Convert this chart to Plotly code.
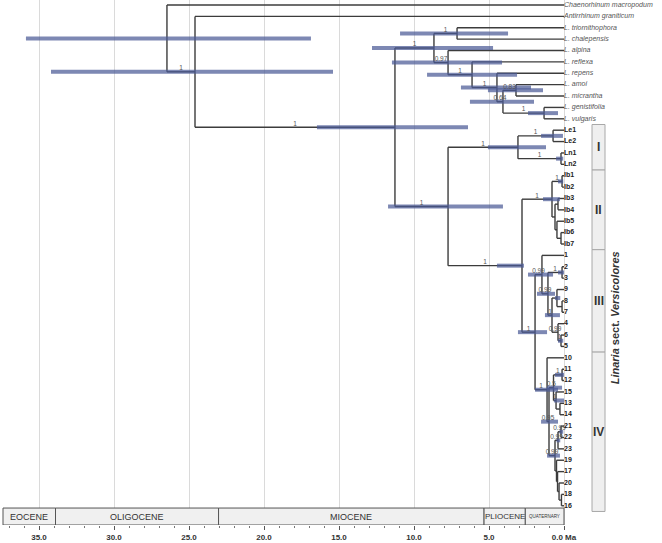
import plotly.graph_objects as go

# ---------------- data ----------------
tip_names = ["Chaenorhinum macropodum", "Antirrhinum graniticum", "L. triornithophora",
             "L. chalepensis", "L. alpina", "L. reflexa", "L. repens", "L. amoi",
             "L. micrantha", "L. genistifolia", "L. vulgaris",
             "Le1", "Le2", "Ln1", "Ln2",
             "Ib1", "Ib2", "Ib3", "Ib4", "Ib5", "Ib6", "Ib7",
             "1", "2", "3", "9", "8", "7", "4", "6", "5",
             "10", "11", "12", "15", "13", "14", "21", "22", "23", "19", "17", "20", "18", "16"]
n_outgroup_tips = 11

node_ids = ["n_root", "n_A", "n_L", "n_B", "n_C", "n_D", "n_E", "n_F", "n_G", "n_H", "n_I",
            "n_V", "n_CI", "n_Le", "n_Ln", "n_R", "n_CII", "n_Ib12", "n_IIb", "n_Ib34",
            "n_Ib567", "n_Ib67", "n_C34", "n_CIII", "n_X", "n_23", "n_Y", "n_987", "n_87",
            "n_465", "n_65", "n_CIV", "n_RIV", "n_IVA", "n_1112", "n_151314", "n_1314",
            "n_IVB", "n_C1", "n_2122", "n_C2", "n_C3", "n_C4", "n_C5"]
node_kids = [["Chaenorhinum macropodum", "n_A"], ["Antirrhinum graniticum", "n_L"],
             ["n_B", "n_V"], ["n_C", "n_D"], ["L. triornithophora", "L. chalepensis"],
             ["L. alpina", "n_E"], ["L. reflexa", "n_F"], ["L. repens", "n_G"],
             ["n_H", "n_I"], ["L. amoi", "L. micrantha"], ["L. genistifolia", "L. vulgaris"],
             ["n_CI", "n_R"], ["n_Le", "n_Ln"], ["Le1", "Le2"], ["Ln1", "Ln2"],
             ["n_CII", "n_C34"], ["n_Ib12", "n_IIb"], ["Ib1", "Ib2"], ["n_Ib34", "n_Ib567"],
             ["Ib3", "Ib4"], ["Ib5", "n_Ib67"], ["Ib6", "Ib7"], ["n_CIII", "n_CIV"],
             ["1", "n_X"], ["n_23", "n_Y"], ["2", "3"], ["n_987", "n_465"], ["9", "n_87"],
             ["8", "7"], ["4", "n_65"], ["6", "5"], ["10", "n_RIV"], ["n_IVA", "n_IVB"],
             ["n_1112", "n_151314"], ["11", "12"], ["15", "n_1314"], ["13", "14"],
             ["n_C1", "n_C2"], ["n_2122", "23"], ["21", "22"], ["19", "n_C3"],
             ["17", "n_C4"], ["20", "n_C5"], ["18", "16"]]
node_age = [26.47, 24.6, 11.27, 8.67, 7.13, 7.73, 6.13, 4.47, 4.07, 3.2, 1.33,
            7.73, 3.07, 0.73, 0.2, 2.8, 0.8, 0.13, 0.6, 0.4,
            0.47, 0.2, 1.93, 1.47, 1.07, 0.13, 0.8, 0.47, 0.13,
            0.4, 0.2, 1.13, 1.0, 0.7, 0.13, 0.53, 0.27,
            0.6, 0.4, 0.2, 0.5, 0.43, 0.33, 0.17]
hpd_old = [35.87, 34.2, 16.47, 12.8, 10.93, 11.47, 9.13, 6.87, 6.27, 5.07, 2.4,
           11.73, 5.07, 1.53, 0.53, 4.47, 1.4, 0.4, None, None,
           None, None, 3.07, 2.4, 1.8, 0.4, 1.27, 0.6, None,
           None, 0.4, 1.93, 1.53, 1.13, 0.6, 0.67, None,
           1.13, 0.5, 0.3, None, None, None, None]
hpd_young = [16.87, 15.4, 6.4, 4.73, 3.73, 4.13, 3.13, 2.2, 2.0, 1.4, 0.4,
             4.07, 1.2, 0.07, 0.05, 2.67, 0.27, 0.05, None, None,
             None, None, 1.13, 0.73, 0.6, 0.0, 0.27, 0.25, None,
             None, 0.05, 0.4, 0.4, 0.13, 0.0, 0.0, None,
             0.27, 0.25, 0.05, None, None, None, None]
node_support = ["", "1", "1", "1", "1", "0.97", "1", "1", "0.64", "0.83", "1",
                "1", "1", "1", "1", "1", "1", "1", "", "",
                "", "", "1", "0.99", "0.99", "1", "1", "", "",
                "0.99", "1", "1", "0.95", "0.5", "1", "1", "",
                "0.99", "0.99", "0.99", "", "", "", ""]

epoch_names = ["EOCENE", "OLIGOCENE", "MIOCENE", "PLIOCENE", "QUATERNARY"]
epoch_start = [37.4, 33.9, 23.03, 5.33, 2.58]
epoch_end = [33.9, 23.03, 5.33, 2.58, 0.0]
epoch_font = [9, 9, 9, 8, 4.5]

clade_names = ["I", "II", "III", "IV"]
clade_first = ["Le1", "Ib1", "1", "10"]
clade_last = ["Ln2", "Ib7", "5", "16"]

tick_vals = [35, 30, 25, 20, 15, 10, 5, 0]
tick_text = ["35.0", "30.0", "25.0", "20.0", "15.0", "10.0", "5.0", "0.0 Ma"]
minor_tick_vals = [v for v in range(0, 38) if v % 5 != 0]

# ---------------- layout helpers ----------------
FONT = "Liberation Sans, Arial, sans-serif"
tip_y = {n: i for i, n in enumerate(tip_names)}
age = {n: 0.0 for n in tip_names}
kids = {}
for nid, k, a in zip(node_ids, node_kids, node_age):
    kids[nid] = k
    age[nid] = a
parent = {}
for nid, k in kids.items():
    for c in k:
        parent[c] = nid

ypos = dict(tip_y)


def get_y(n):
    if n in ypos:
        return ypos[n]
    v = sum(get_y(c) for c in kids[n]) / len(kids[n])
    ypos[n] = v
    return v


for nid in node_ids:
    get_y(nid)

# branches
bx, by = [], []
for nid in node_ids:
    ys = [ypos[c] for c in kids[nid]]
    bx += [age[nid], age[nid], None]
    by += [min(ys), max(ys), None]
    for c in kids[nid]:
        bx += [age[nid], age[c], None]
        by += [ypos[c], ypos[c], None]

# HPD bars
hx, hy = [], []
for nid, o, yg in zip(node_ids, hpd_old, hpd_young):
    if o is None:
        continue
    hx += [o, yg, None]
    hy += [ypos[nid], ypos[nid], None]

# support labels
sx, sy, st = [], [], []
for nid, s in zip(node_ids, node_support):
    if not s or nid not in parent:
        continue
    sx.append((age[parent[nid]] + age[nid]) / 2)
    sy.append(ypos[nid])
    st.append(s)

fig = go.Figure()
fig.add_trace(go.Scatter(x=bx, y=by, mode="lines",
                         line=dict(color="#3c3c3c", width=1.4), hoverinfo="skip"))
fig.add_trace(go.Scatter(x=hx, y=hy, mode="lines",
                         line=dict(color="rgba(75,90,150,0.72)", width=4), hoverinfo="skip"))
fig.add_trace(go.Scatter(x=sx, y=sy, mode="text", text=st, textposition="top center",
                         textfont=dict(size=6.5, color="#555", family=FONT), hoverinfo="skip"))
# tip labels
fig.add_trace(go.Scatter(x=[0.0] * n_outgroup_tips, y=list(range(n_outgroup_tips)),
                         mode="text", text=["<i>%s</i>" % t for t in tip_names[:n_outgroup_tips]],
                         textposition="middle right",
                         textfont=dict(size=7, color="#555", family=FONT), hoverinfo="skip"))
fig.add_trace(go.Scatter(x=[0.0] * (len(tip_names) - n_outgroup_tips),
                         y=list(range(n_outgroup_tips, len(tip_names))),
                         mode="text", text=["<b>%s</b>" % t for t in tip_names[n_outgroup_tips:]],
                         textposition="middle right",
                         textfont=dict(size=7, color="#222", family=FONT), hoverinfo="skip"))

Y_TOP, Y_BOT = -0.439, 45.69
EPOCH_TOP = 44.2

shapes = []
annotations = []
for name, s, e, fs in zip(epoch_names, epoch_start, epoch_end, epoch_font):
    shapes.append(dict(type="rect", xref="x", yref="y", x0=s, x1=e, y0=EPOCH_TOP, y1=Y_BOT,
                       fillcolor="#f0f0f0", line=dict(color="#555", width=1), layer="between"))
    annotations.append(dict(x=(s + e) / 2, y=(EPOCH_TOP + Y_BOT) / 2, xref="x", yref="y",
                            text=name, showarrow=False,
                            font=dict(size=fs, color="#333", family=FONT)))

for name, f, l in zip(clade_names, clade_first, clade_last):
    y0 = tip_y[f] - 0.5
    y1 = tip_y[l] + 0.5
    shapes.append(dict(type="rect", xref="x", yref="y", x0=-1.867, x1=-2.733, y0=y0, y1=y1,
                       fillcolor="#efefef", line=dict(color="#a8a8a8", width=1), layer="between"))
    annotations.append(dict(x=-2.3, y=(y0 + y1) / 2, xref="x", yref="y",
                            text="<b>%s</b>" % name, showarrow=False,
                            font=dict(size=12, color="#333", family=FONT)))

annotations.append(dict(x=-3.42, y=27.5, xref="x", yref="y",
                        text="<b><i>Linaria</i> sect. <i>Versicolores</i></b>",
                        textangle=-90, showarrow=False,
                        font=dict(size=11, color="#333", family=FONT)))

fig.update_layout(
    width=662, height=543,
    margin=dict(l=0, r=0, t=0, b=18),
    paper_bgcolor="white", plot_bgcolor="white",
    showlegend=False,
    shapes=shapes, annotations=annotations,
    xaxis=dict(range=[37.6, -6.533], tickvals=tick_vals,
               ticktext=["<b>%s</b>" % t for t in tick_text],
               tickfont=dict(size=8, color="#333", family=FONT),
               showgrid=True, gridcolor="#dadada", gridwidth=1, zeroline=False,
               showline=False,
               ticks="outside", ticklen=4, tickcolor="#555",
               minor=dict(tickmode="array", tickvals=minor_tick_vals, ticks="outside",
                          ticklen=2, tickcolor="#777", showgrid=False)),
    yaxis=dict(range=[Y_BOT, Y_TOP], visible=False, showgrid=False, zeroline=False),
)

fig.write_html("out.html", config={"displayModeBar": False},
               post_script="document.body.style.margin='0';")
